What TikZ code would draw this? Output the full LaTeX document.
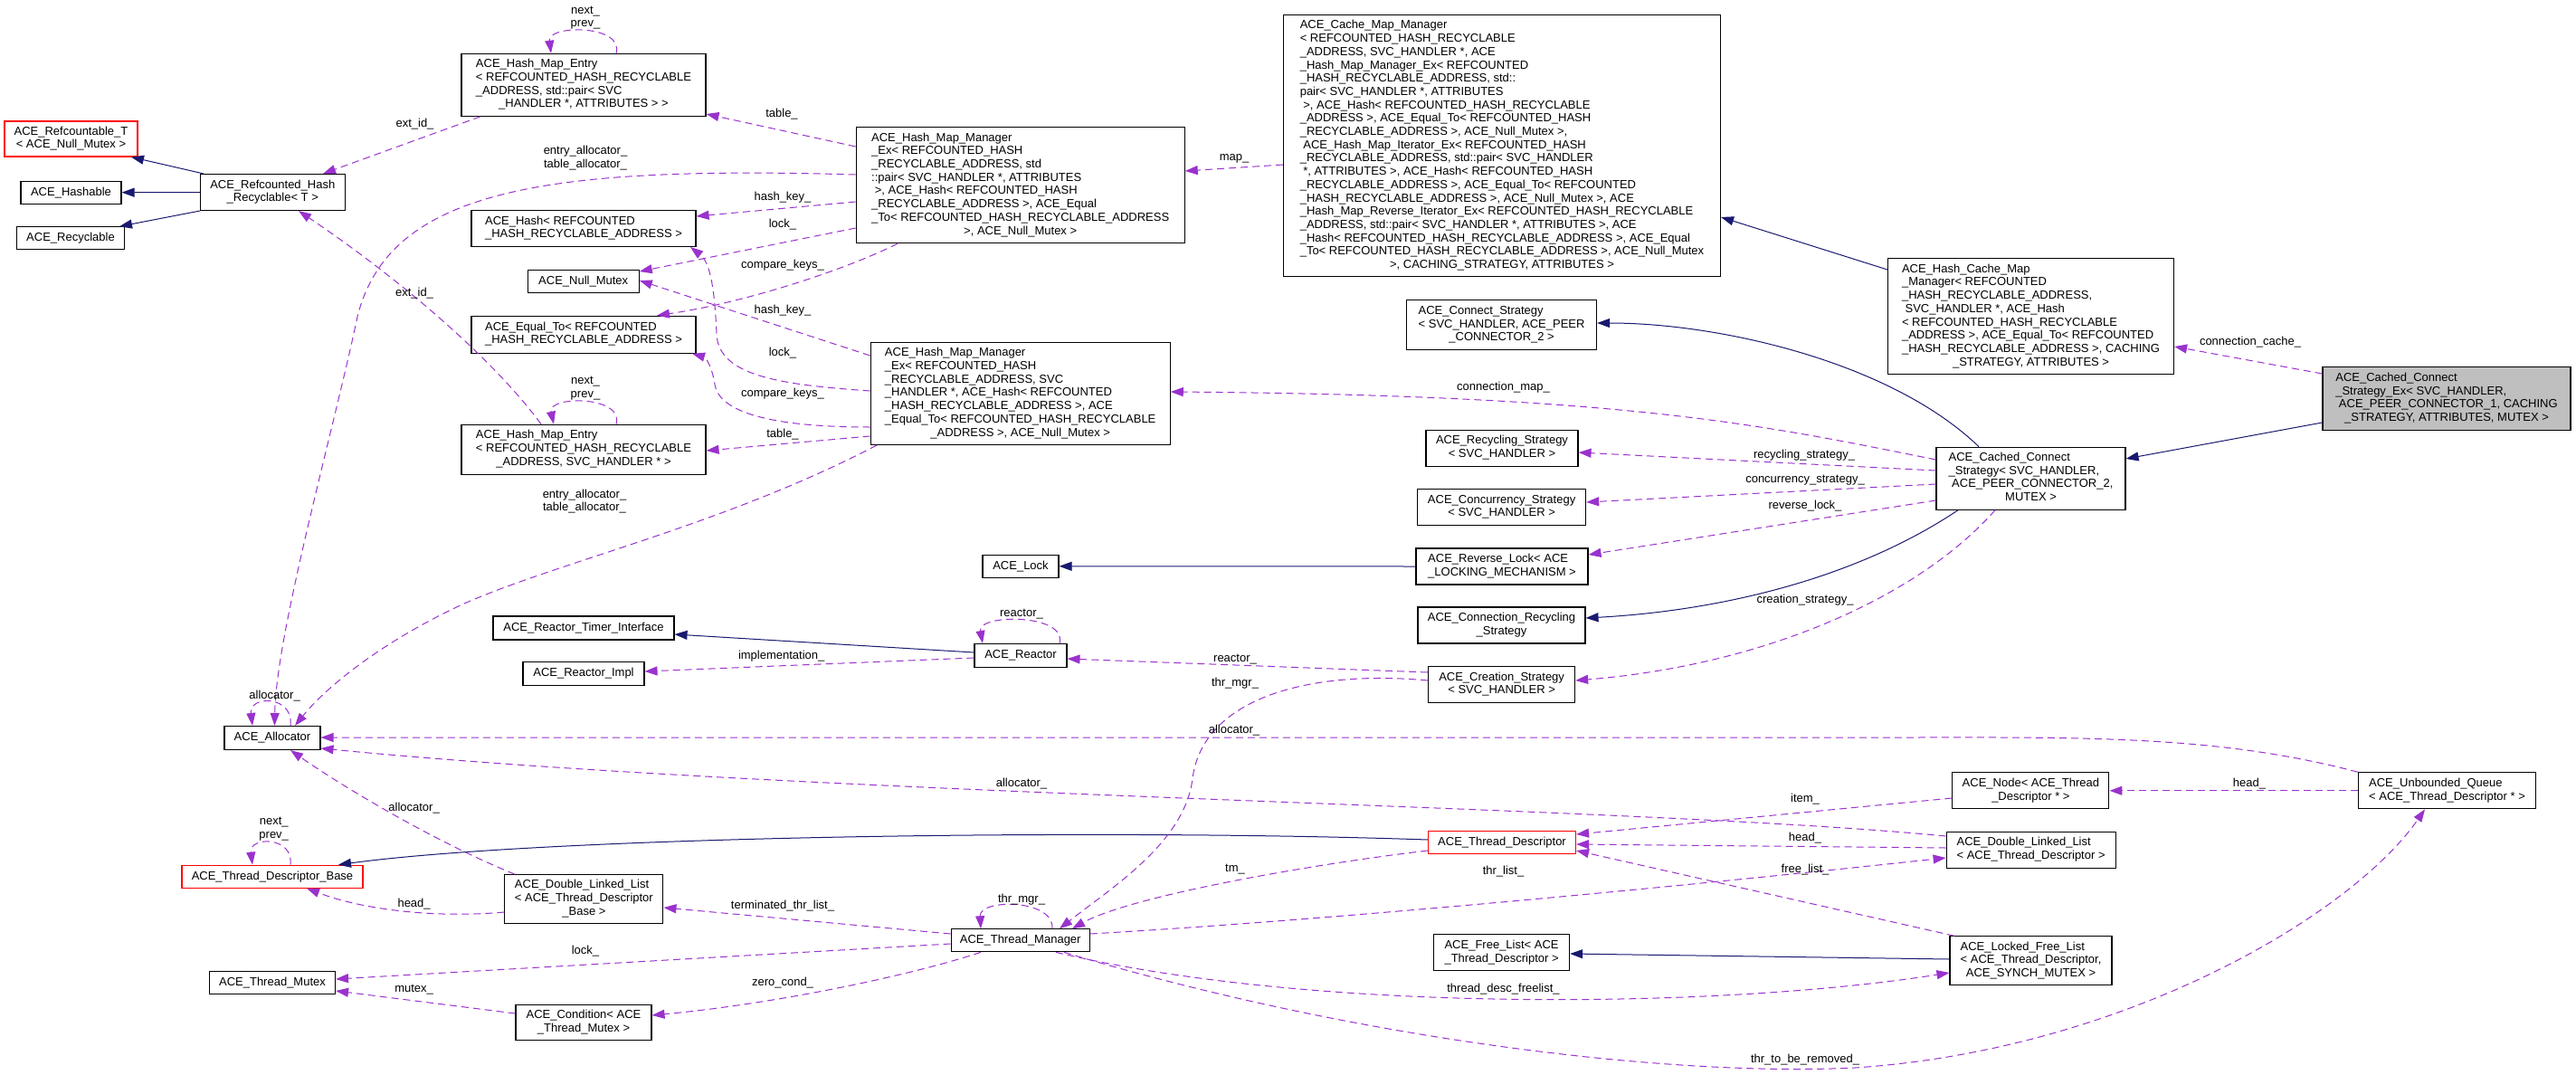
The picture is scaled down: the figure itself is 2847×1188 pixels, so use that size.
\documentclass[tikz,border=0pt]{standalone}
\usepackage{fontspec}
\setmainfont{Liberation Sans}
\usetikzlibrary{arrows.meta}
\definecolor{inhblue}{HTML}{191970}
\definecolor{usepurple}{HTML}{9A32CD}
\newcommand\boxtext[1]{\begin{tabular}{@{}l@{}}#1\end{tabular}}
\newcommand\lastline[1]{\multicolumn{1}{@{}c@{}}{#1}}
\tikzset{
	cls/.style={draw=black, line width=1.1pt, fill=white, inner sep=0pt, font=\fontsize{13}{14.7}\selectfont},
	redcls/.style={cls, draw=red},
	sz/.style 2 args={minimum width=#1pt, minimum height=#2pt},
	lbl/.style={inner sep=0pt, align=center, font=\fontsize{13}{14.7}\selectfont},
	inh/.style={draw=inhblue, line width=1pt, -{Triangle[length=14pt,width=10pt]}},
	use/.style={draw=usepurple, line width=1pt, dash pattern=on 8pt off 5pt, -{Triangle[length=14pt,width=10pt]}}
}

\begin{document}
\begin{tikzpicture}[x=1pt, y=-1pt]
	\fill[white] (0,0) rectangle (2847,1188);
	\useasboundingbox (0,0) rectangle (2847,1188);

	\node[redcls, sz={147}{39}] (rct) at (78.5,153.5) {\boxtext{ACE\_Refcountable\_T\\\lastline{< ACE\_Null\_Mutex >}}};
	\node[cls, sz={111}{25}] (hashable) at (78.5,212.7) {ACE\_Hashable};
	\node[cls, sz={119}{25}] (recyclable) at (78,263.3) {ACE\_Recyclable};
	\node[cls, sz={160}{40}] (rhr) at (301.3,212.5) {\boxtext{ACE\_Refcounted\_Hash\\\lastline{\_Recyclable< T >}}};
	\node[cls, sz={106}{26}] (alloc) at (301,815.5) {ACE\_Allocator};
	\node[redcls, sz={200}{25}] (tdb) at (301,968.7) {ACE\_Thread\_Descriptor\_Base};
	\node[cls, sz={139}{25}] (tmutex) at (301,1086) {ACE\_Thread\_Mutex};

	\node[cls, sz={270}{69}] (hme1) at (645,93.8) {\boxtext{ACE\_Hash\_Map\_Entry\\< REFCOUNTED\_HASH\_RECYCLABLE\\\_ADDRESS, std::pair< SVC\\\lastline{\_HANDLER *, ATTRIBUTES > >}}};
	\node[cls, sz={248}{40}] (hash) at (645,252.5) {\boxtext{ACE\_Hash< REFCOUNTED\\\_HASH\_RECYCLABLE\_ADDRESS >}};
	\node[cls, sz={123}{25}] (nullm) at (644.7,311.3) {ACE\_Null\_Mutex};
	\node[cls, sz={248}{41}] (eq) at (645,369.7) {\boxtext{ACE\_Equal\_To< REFCOUNTED\\\_HASH\_RECYCLABLE\_ADDRESS >}};
	\node[cls, sz={270}{55}] (hme2) at (645,496.7) {\boxtext{ACE\_Hash\_Map\_Entry\\< REFCOUNTED\_HASH\_RECYCLABLE\\\lastline{\_ADDRESS, SVC\_HANDLER * >}}};
	\node[cls, sz={200}{26}] (rti) at (645,694) {ACE\_Reactor\_Timer\_Interface};
	\node[cls, sz={134}{26}] (rimpl) at (645,744.5) {ACE\_Reactor\_Impl};
	\node[cls, sz={175}{54}] (dllb) at (645.4,993.7) {\boxtext{ACE\_Double\_Linked\_List\\< ACE\_Thread\_Descriptor\\\lastline{\_Base >}}};
	\node[cls, sz={150}{39}] (cond) at (645,1129.7) {\boxtext{ACE\_Condition< ACE\\\lastline{\_Thread\_Mutex >}}};

	\node[cls, sz={363}{128}] (hmm1) at (1127.7,204.7) {\boxtext{ACE\_Hash\_Map\_Manager\\\_Ex< REFCOUNTED\_HASH\\\_RECYCLABLE\_ADDRESS, std\\::pair< SVC\_HANDLER *, ATTRIBUTES\\\ >, ACE\_Hash< REFCOUNTED\_HASH\\\_RECYCLABLE\_ADDRESS >, ACE\_Equal\\\_To< REFCOUNTED\_HASH\_RECYCLABLE\_ADDRESS\\\lastline{>, ACE\_Null\_Mutex >}}};
	\node[cls, sz={331}{113}] (hmm2) at (1127.7,435) {\boxtext{ACE\_Hash\_Map\_Manager\\\_Ex< REFCOUNTED\_HASH\\\_RECYCLABLE\_ADDRESS, SVC\\\_HANDLER *, ACE\_Hash< REFCOUNTED\\\_HASH\_RECYCLABLE\_ADDRESS >, ACE\\\_Equal\_To< REFCOUNTED\_HASH\_RECYCLABLE\\\lastline{\_ADDRESS >, ACE\_Null\_Mutex >}}};
	\node[cls, sz={84}{25}] (lock) at (1128,625.8) {ACE\_Lock};
	\node[cls, sz={102}{26}] (reactor) at (1128,724.5) {ACE\_Reactor};
	\node[cls, sz={153}{25}] (tmgr) at (1127.7,1039.3) {ACE\_Thread\_Manager};

	\node[cls, sz={483}{289}] (cmm) at (1660,161.3) {\boxtext{ACE\_Cache\_Map\_Manager\\
		< REFCOUNTED\_HASH\_RECYCLABLE\\
		\_ADDRESS, SVC\_HANDLER *, ACE\\
		\_Hash\_Map\_Manager\_Ex< REFCOUNTED\\
		\_HASH\_RECYCLABLE\_ADDRESS, std::\\
		pair< SVC\_HANDLER *, ATTRIBUTES\\
		\ >, ACE\_Hash< REFCOUNTED\_HASH\_RECYCLABLE\\
		\_ADDRESS >, ACE\_Equal\_To< REFCOUNTED\_HASH\\
		\_RECYCLABLE\_ADDRESS >, ACE\_Null\_Mutex >,\\
		\ ACE\_Hash\_Map\_Iterator\_Ex< REFCOUNTED\_HASH\\
		\_RECYCLABLE\_ADDRESS, std::pair< SVC\_HANDLER\\
		\ *, ATTRIBUTES >, ACE\_Hash< REFCOUNTED\_HASH\\
		\_RECYCLABLE\_ADDRESS >, ACE\_Equal\_To< REFCOUNTED\\
		\_HASH\_RECYCLABLE\_ADDRESS >, ACE\_Null\_Mutex >, ACE\\
		\_Hash\_Map\_Reverse\_Iterator\_Ex< REFCOUNTED\_HASH\_RECYCLABLE\\
		\_ADDRESS, std::pair< SVC\_HANDLER *, ATTRIBUTES >, ACE\\
		\_Hash< REFCOUNTED\_HASH\_RECYCLABLE\_ADDRESS >, ACE\_Equal\\
		\_To< REFCOUNTED\_HASH\_RECYCLABLE\_ADDRESS >, ACE\_Null\_Mutex\\
		\lastline{>, CACHING\_STRATEGY, ATTRIBUTES >}}};
	\node[cls, sz={210}{55}] (cs) at (1659.6,359.2) {\boxtext{ACE\_Connect\_Strategy\\< SVC\_HANDLER, ACE\_PEER\\\lastline{\_CONNECTOR\_2 >}}};
	\node[cls, sz={168}{40}] (recs) at (1660,495.2) {\boxtext{ACE\_Recycling\_Strategy\\\lastline{< SVC\_HANDLER >}}};
	\node[cls, sz={186}{40}] (concs) at (1659.6,560.7) {\boxtext{ACE\_Concurrency\_Strategy\\\lastline{< SVC\_HANDLER >}}};
	\node[cls, sz={190}{40}] (rlock) at (1660,626) {\boxtext{ACE\_Reverse\_Lock< ACE\\\_LOCKING\_MECHANISM >}};
	\node[cls, sz={185}{40}] (crs) at (1659.5,691) {\boxtext{ACE\_Connection\_Recycling\\\lastline{\_Strategy}}};
	\node[cls, sz={162}{40}] (creas) at (1659.6,756.7) {\boxtext{ACE\_Creation\_Strategy\\\lastline{< SVC\_HANDLER >}}};
	\node[redcls, sz={163}{25}] (td) at (1660,931.3) {ACE\_Thread\_Descriptor};
	\node[cls, sz={150}{40}] (fl) at (1659.6,1052.7) {\boxtext{ACE\_Free\_List< ACE\\\lastline{\_Thread\_Descriptor >}}};

	\node[cls, sz={316}{128}] (hcm) at (2244.5,349.8) {\boxtext{ACE\_Hash\_Cache\_Map\\\_Manager< REFCOUNTED\\\_HASH\_RECYCLABLE\_ADDRESS,\\\ SVC\_HANDLER *, ACE\_Hash\\< REFCOUNTED\_HASH\_RECYCLABLE\\\_ADDRESS >, ACE\_Equal\_To< REFCOUNTED\\\_HASH\_RECYCLABLE\_ADDRESS >, CACHING\\\lastline{\_STRATEGY, ATTRIBUTES >}}};
	\node[cls, sz={209}{69}] (ccs) at (2244.5,528.7) {\boxtext{ACE\_Cached\_Connect\\\_Strategy< SVC\_HANDLER,\\\ ACE\_PEER\_CONNECTOR\_2,\\\lastline{MUTEX >}}};
	\node[cls, fill=black!25, sz={274}{70}] (ccsex) at (2704,440.5) {\boxtext{ACE\_Cached\_Connect\\\_Strategy\_Ex< SVC\_HANDLER,\\\ ACE\_PEER\_CONNECTOR\_1, CACHING\\\lastline{\_STRATEGY, ATTRIBUTES, MUTEX >}}};
	\node[cls, sz={173}{40}] (tnode) at (2244.4,873.8) {\boxtext{ACE\_Node< ACE\_Thread\\\lastline{\_Descriptor * >}}};
	\node[cls, sz={187}{40}] (dll) at (2244.6,939.3) {\boxtext{ACE\_Double\_Linked\_List\\< ACE\_Thread\_Descriptor >}};
	\node[cls, sz={179}{54}] (lfl) at (2244.5,1061.8) {\boxtext{ACE\_Locked\_Free\_List\\< ACE\_Thread\_Descriptor,\\\lastline{ACE\_SYNCH\_MUTEX >}}};
	\node[cls, sz={196}{40}] (uq) at (2704.5,873.8) {\boxtext{ACE\_Unbounded\_Queue\\< ACE\_Thread\_Descriptor * >}};

	\draw[inh] (rhr.north -| 225,0) -- (rct.south -| 145,0);
	\draw[inh] (rhr.west) -- (hashable.east);
	\draw[inh] (rhr.south west) -- (recyclable.north -| 132,0);
	\draw[inh] (hcm.west |- 0,298) -- (cmm.east |- 0,240);
	\draw[inh] (ccsex.west |- 0,467) -- (ccs.east |- 0,507);
	\draw[inh] (ccs.north -| 2187,0) .. controls (2090,400) and (1900,357) .. (cs.east |- 0,357);
	\draw[inh] (rlock.west) -- (lock.east);
	\draw[inh] (ccs.south -| 2164,0) .. controls (2050,640) and (1900,675) .. (crs.east |- 0,683);
	\draw[inh] (reactor.west |- 0,721) -- (rti.east |- 0,701);
	\draw[inh] (td.west |- 0,928) .. controls (1200,915) and (600,925) .. (tdb.north -| 374,0);
	\draw[inh] (lfl.west |- 0,1060) -- (fl.east |- 0,1054);

	\draw[use] (hme1.south -| 531,0) -- (rhr.north -| 357,0);
	\draw[use] (hme1.north -| 681,0) .. controls (690,27) and (605,27) .. (hme1.north -| 609,0);
	\draw[use] (hmm1.west |- 0,162) -- (hme1.east |- 0,126);
	\draw[use] (hmm1.west |- 0,193) .. controls (600,183) and (430,210) .. (395,350) .. controls (370,470) and (305,700) .. (alloc.north -| 303.5,0);
	\draw[use] (hmm1.west |- 0,223) -- (hash.east |- 0,239);
	\draw[use] (hmm1.west |- 0,252) -- (nullm.east |- 0,300);
	\draw[use] (hmm1.south -| 992,0) .. controls (930,300) and (820,335) .. (eq.north -| 726,0);
	\draw[use] (cmm.west |- 0,182) -- (hmm1.east |- 0,189);
	\draw[use] (hmm2.west |- 0,393) -- (nullm.east |- 0,310);
	\draw[use] (hmm2.west |- 0,432) .. controls (860,425) and (795,415) .. (792,370) .. controls (790,320) and (785,290) .. (hash.south -| 763,0);
	\draw[use] (hmm2.west |- 0,472) .. controls (850,472) and (795,455) .. (790,425) .. controls (787,405) and (780,395) .. (eq.south -| 765,0);
	\draw[use] (hmm2.west |- 0,482) -- (hme2.east |- 0,498);
	\draw[use] (hmm2.south -| 969,0) .. controls (800,580) and (620,620) .. (513,667) .. controls (420,710) and (360,760) .. (alloc.north -| 326,0);
	\draw[use] (hme2.north -| 598,0) .. controls (540,390) and (430,300) .. (rhr.south -| 330,0);
	\draw[use] (hme2.north -| 681,0) .. controls (690,437) and (605,437) .. (hme2.north -| 612,0);
	\draw[use] (ccsex.west |- 0,413) -- (hcm.east |- 0,383);
	\draw[use] (ccs.west |- 0,508) .. controls (1950,470) and (1800,437) .. (hmm2.east |- 0,433);
	\draw[use] (ccs.west |- 0,520) -- (recs.east |- 0,500);
	\draw[use] (ccs.west |- 0,535) -- (concs.east |- 0,555);
	\draw[use] (ccs.west |- 0,553) -- (rlock.east |- 0,613);
	\draw[use] (ccs.south -| 2205,0) .. controls (2120,660) and (1950,735) .. (creas.east |- 0,752);
	\draw[use] (reactor.north -| 1171,0) .. controls (1180,678) and (1080,678) .. (reactor.north -| 1086,0);
	\draw[use] (reactor.west |- 0,727) -- (rimpl.east |- 0,742);
	\draw[use] (creas.west |- 0,743) -- (reactor.east |- 0,728);
	\draw[use] (creas.west |- 0,752) .. controls (1450,740) and (1330,770) .. (1318,860) .. controls (1310,930) and (1230,980) .. (tmgr.north -| 1171,0);
	\draw[use] (uq.north west) .. controls (2450,812) and (2300,815) .. (2100,815) -- (alloc.east |- 0,815);
	\draw[use] (dll.west |- 0,924) .. controls (1800,890) and (900,880) .. (alloc.east |- 0,827);
	\draw[use] (dllb.north -| 569,0) .. controls (480,930) and (380,870) .. (alloc.south -| 321,0);
	\draw[use] (dllb.west |- 0,1008) .. controls (480,1015) and (400,1005) .. (tdb.south -| 339,0);
	\draw[use] (tdb.north -| 321,0) .. controls (325,924) and (275,924) .. (tdb.north -| 279,0);
	\draw[use] (alloc.north -| 321,0) .. controls (325,768) and (275,768) .. (alloc.north -| 279,0);
	\draw[use] (tmgr.north -| 1163,0) .. controls (1165,993) and (1082,993) .. (tmgr.north -| 1084,0);
	\draw[use] (tmgr.west |- 0,1032) -- (dllb.east |- 0,1003);
	\draw[use] (tmgr.west |- 0,1043) -- (tmutex.east |- 0,1082);
	\draw[use] (tmgr.south -| 1084,0) .. controls (1000,1080) and (850,1110) .. (cond.east |- 0,1122);
	\draw[use] (cond.west |- 0,1120) -- (tmutex.east |- 0,1095);
	\draw[use] (td.west |- 0,940) .. controls (1450,955) and (1250,990) .. (tmgr.north -| 1185,0);
	\draw[use] (tmgr.east |- 0,1032) .. controls (1500,1015) and (1900,975) .. (dll.west |- 0,948);
	\draw[use] (tmgr.south -| 1167,0) .. controls (1450,1120) and (1900,1115) .. (lfl.west |- 0,1075);
	\draw[use] (tmgr.south -| 1176,0) .. controls (1500,1150) and (1850,1190) .. (2050,1180) .. controls (2350,1160) and (2600,1010) .. (uq.south -| 2680,0);
	\draw[use] (dll.west |- 0,937) -- (td.east |- 0,933);
	\draw[use] (tnode.west |- 0,882) -- (td.east |- 0,922);
	\draw[use] (lfl.north -| 2160,0) -- (td.east |- 0,940);
	\draw[use] (uq.west) -- (tnode.east);

	\node[lbl] (l1) at (458.5,136.7) {ext\_id\_};
	\node[lbl] (l2) at (647,19.5) {next\_\\prev\_};
	\node[lbl] (l3) at (647,174.5) {entry\_allocator\_\\table\_allocator\_};
	\node[lbl] (l4) at (458,324.3) {ext\_id\_};
	\node[lbl] (l5) at (864,126) {table\_};
	\node[lbl] (l6) at (1364,175) {map\_};
	\node[lbl] (l7) at (865,218) {hash\_key\_};
	\node[lbl] (l8) at (865,248) {lock\_};
	\node[lbl] (l9) at (865,293) {compare\_keys\_};
	\node[lbl] (l10) at (865,343) {hash\_key\_};
	\node[lbl] (l11) at (865,390) {lock\_};
	\node[lbl] (l12) at (865,435) {compare\_keys\_};
	\node[lbl] (l13) at (865,480) {table\_};
	\node[lbl] (l14) at (647,429) {next\_\\prev\_};
	\node[lbl] (l15) at (646,554) {entry\_allocator\_\\table\_allocator\_};
	\node[lbl] (l16) at (303.6,769.3) {allocator\_};
	\node[lbl] (l17) at (1661.5,428.3) {connection\_map\_};
	\node[lbl] (l18) at (2487,378.3) {connection\_cache\_};
	\node[lbl] (l19) at (1994,502.7) {recycling\_strategy\_};
	\node[lbl] (l20) at (1995,531) {concurrency\_strategy\_};
	\node[lbl] (l21) at (1995,559) {reverse\_lock\_};
	\node[lbl] (l22) at (1995,662.7) {creation\_strategy\_};
	\node[lbl] (l23) at (1129,679) {reactor\_};
	\node[lbl] (l24) at (863.7,725) {implementation\_};
	\node[lbl] (l25) at (1365,729) {reactor\_};
	\node[lbl] (l26) at (1365,755) {thr\_mgr\_};
	\node[lbl] (l27) at (1364,806.7) {allocator\_};
	\node[lbl] (l28) at (1129,866) {allocator\_};
	\node[lbl] (l29) at (457.6,893.3) {allocator\_};
	\node[lbl] (l30) at (302.7,916) {next\_\\prev\_};
	\node[lbl] (l31) at (457.6,999.3) {head\_};
	\node[lbl] (l32) at (647,1050.7) {lock\_};
	\node[lbl] (l33) at (457.6,1094) {mutex\_};
	\node[lbl] (l34) at (1129,994) {thr\_mgr\_};
	\node[lbl] (l35) at (865,1000.7) {terminated\_thr\_list\_};
	\node[lbl] (l36) at (865,1086) {zero\_cond\_};
	\node[lbl] (l37) at (1365,961) {tm\_};
	\node[lbl] (l38) at (1995,882.7) {item\_};
	\node[lbl] (l39) at (1995,925.7) {head\_};
	\node[lbl] (l40) at (1995,960.7) {free\_list\_};
	\node[lbl] (l41) at (1661.5,962.7) {thr\_list\_};
	\node[lbl] (l42) at (1661.5,1092.7) {thread\_desc\_freelist\_};
	\node[lbl] (l43) at (1995,1170.7) {thr\_to\_be\_removed\_};
	\node[lbl] (l44) at (2486,865.7) {head\_};
\end{tikzpicture}
\end{document}
